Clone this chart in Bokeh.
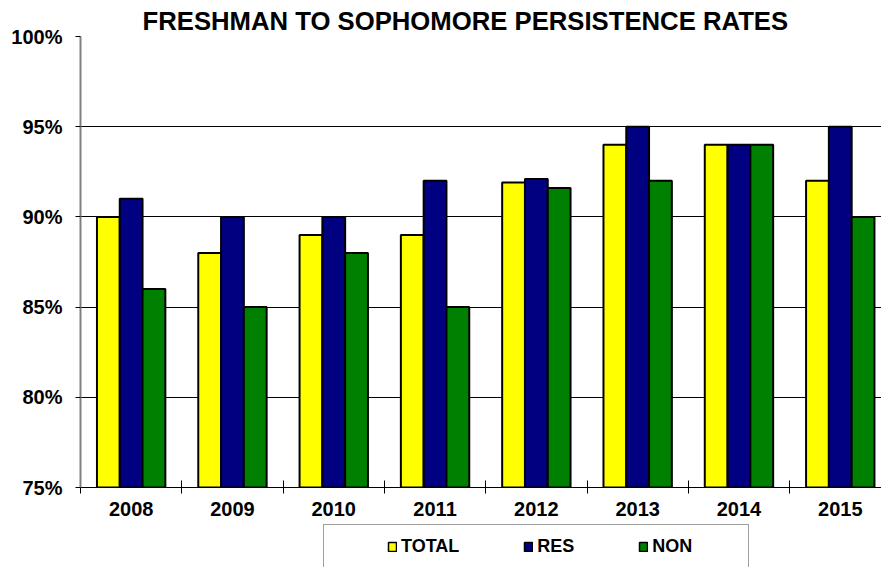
from bokeh.plotting import figure
from bokeh.layouts import column
from bokeh.models import (FixedTicker, Legend, LegendItem, Grid,
                          PrintfTickFormatter, Range1d)
from bokeh.embed import file_html
from bokeh.resources import INLINE

years = ["2008", "2009", "2010", "2011", "2012", "2013", "2014", "2015"]
total = [90, 88, 89, 89, 91.9, 94, 94, 92]
res = [91, 90, 90, 92, 92.1, 95, 94, 95]
non = [86, 85, 88, 85, 91.6, 92, 94, 90]
y_ticks = [75, 80, 85, 90, 95, 100]

series_names = ["TOTAL", "RES", "NON"]
series_vals = [total, res, non]
series_colors = ["#FFFF00", "#000080", "#008000"]

FONT = "Liberation Sans"
BW = 0.225

p = figure(width=881, height=524, output_backend="svg", toolbar_location=None,
           x_range=Range1d(-0.5, 7.407), y_range=Range1d(75, 100),
           min_border_left=80, min_border_right=0, min_border_top=36,
           min_border_bottom=37)
p.outline_line_color = None
p.background_fill_color = "white"

p.title.text = "FRESHMAN TO SOPHOMORE PERSISTENCE RATES"
p.title.text_font = FONT
p.title.text_font_style = "bold"
p.title.text_font_size = "25.7px"
p.title.text_color = "black"
p.title.align = "left"
p.title.offset = 62
p.title.standoff = 4

idx = list(range(len(years)))
renderers = []
for k, (name, vals, col) in enumerate(zip(series_names, series_vals, series_colors)):
    xs = [i + (k - 1) * BW for i in idx]
    r = p.vbar(x=xs, top=vals, bottom=75, width=BW, fill_color=col,
               line_color="black", line_width=2)
    renderers.append(r)

# y axis
p.yaxis.ticker = FixedTicker(ticks=y_ticks)
p.yaxis.formatter = PrintfTickFormatter(format="%d%%")
p.yaxis.axis_line_color = "#808080"
p.yaxis.axis_line_width = 2
p.yaxis.major_tick_in = 0
p.yaxis.major_tick_out = 5
p.yaxis.major_tick_line_color = "black"
p.yaxis.minor_tick_line_color = None
p.yaxis.major_label_standoff = 13
p.yaxis.major_label_text_font = FONT
p.yaxis.major_label_text_font_style = "bold"
p.yaxis.major_label_text_font_size = "20px"
p.yaxis.major_label_text_color = "black"

# x axis
p.xaxis.ticker = FixedTicker(ticks=idx, minor_ticks=[i - 0.5 for i in idx])
p.xaxis.major_label_overrides = {i: y for i, y in zip(idx, years)}
p.xaxis.major_tick_in = 0
p.xaxis.major_tick_out = 0
p.xaxis.minor_tick_in = 7
p.xaxis.minor_tick_out = 6
p.xaxis.minor_tick_line_color = "black"
p.xaxis.axis_line_color = "black"
p.xaxis.axis_line_width = 1
p.xaxis.major_label_standoff = 8
p.xaxis.major_label_text_font = FONT
p.xaxis.major_label_text_font_style = "bold"
p.xaxis.major_label_text_font_size = "20px"
p.xaxis.major_label_text_color = "black"

# grids
p.xgrid.visible = False
p.ygrid.ticker = FixedTicker(ticks=[80, 85, 90, 95])
p.ygrid.grid_line_color = "black"
p.ygrid.grid_line_width = 1
top_grid = Grid(dimension=1, ticker=FixedTicker(ticks=[100]),
                grid_line_color="#808080", grid_line_width=2)
p.add_layout(top_grid)

# legend strip below the chart: its ranges keep the bars out of view,
# so only the legend is visible
p2 = figure(width=881, height=43, output_backend="svg", toolbar_location=None,
            x_range=Range1d(-100, -99), y_range=Range1d(1000, 1001),
            x_axis_type=None, y_axis_type=None,
            min_border=0, min_border_left=0, min_border_right=0,
            min_border_top=0, min_border_bottom=0)
p2.outline_line_color = None
p2.xgrid.visible = False
p2.ygrid.visible = False

dummy = p2.vbar(x=idx, top=total, width=BW, fill_color=None, line_color=None)
leg_renderers = []
for k, (vals, c) in enumerate(zip(series_vals, series_colors)):
    xs = [i + (k - 1) * BW for i in idx]
    leg_renderers.append(p2.vbar(x=xs, top=vals, width=BW, fill_color=c,
                                 line_color="black", line_width=1.5))

box = Legend(items=[LegendItem(label=" ", renderers=[dummy])], location=(243, -4),
             padding=0, margin=0, glyph_width=0, glyph_height=45,
             label_width=424, label_height=45, label_standoff=0,
             border_line_color="#404040", border_line_width=1.5,
             background_fill_color="white", background_fill_alpha=1)
p2.add_layout(box)

leg = Legend(items=[LegendItem(label=n, renderers=[r]) for n, r in zip(series_names, leg_renderers)],
             orientation="horizontal", location=(307, 10), padding=0, margin=0,
             spacing=64, glyph_width=10, glyph_height=11, label_standoff=4,
             label_height=20, border_line_color=None, background_fill_alpha=0,
             label_text_font=FONT, label_text_font_style="bold",
             label_text_font_size="18px", label_text_color="black")
p2.add_layout(leg)

layout = column(p, p2, spacing=0)
open("out.html", "w").write(file_html(layout, INLINE))
